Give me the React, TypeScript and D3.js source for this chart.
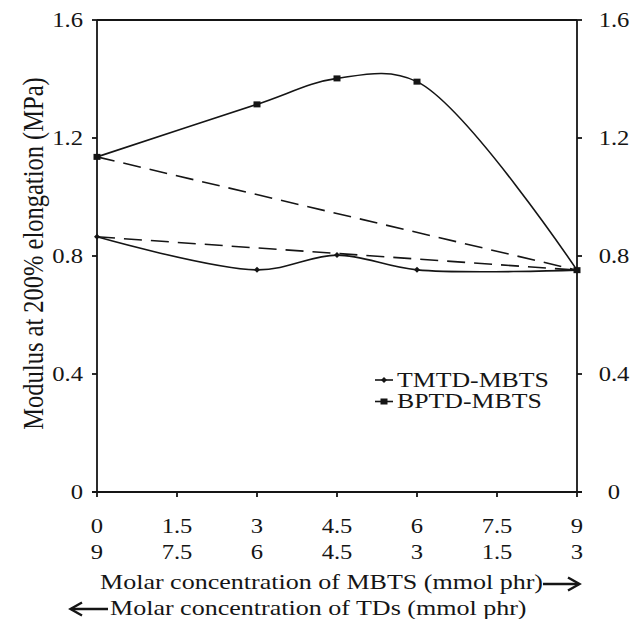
import React from 'react';
import * as d3 from 'd3';

// MBTS loading (mmol phr) at which each compound was tested
const mbtsLevels = [0, 3, 4.5, 6, 9];
// Modulus at 200% elongation (MPa)
const tmtdModulus = [0.865, 0.753, 0.803, 0.753, 0.752];
const bptdModulus = [1.136, 1.314, 1.402, 1.391, 0.752];
// Additivity lines joining the single-accelerator end points
const additiveLevels = [0, 9];
const tmtdAdditive = [0.865, 0.752];
const bptdAdditive = [1.136, 0.752];

const yTicks = [0, 0.4, 0.8, 1.2, 1.6];
const yTickLabels = ['0', '0.4', '0.8', '1.2', '1.6'];
const xTicks = [0, 1.5, 3, 4.5, 6, 7.5, 9];
const mbtsTickLabels = ['0', '1.5', '3', '4.5', '6', '7.5', '9'];
const tdTickLabels = ['9', '7.5', '6', '4.5', '3', '1.5', '3'];
const seriesNames = ['TMTD-MBTS', 'BPTD-MBTS'];

const W = 641;
const H = 619;
const FONT = "'Liberation Serif', 'DejaVu Serif', serif";
const INK = '#151515';
const SX = 1.2; // horizontal stretch applied to lettering

const x = d3.scaleLinear().domain([0, 9]).range([97, 577]);
const y = d3.scaleLinear().domain([0, 1.6]).range([492, 20]);

type P = [number, number];
const smooth = d3.line<P>().x(d => x(d[0])).y(d => y(d[1])).curve(d3.curveCatmullRom.alpha(0.5));
const straight = d3.line<P>().x(d => x(d[0])).y(d => y(d[1]));

function zip(xs: number[], ys: number[]): P[] {
  return xs.map((v, i) => [v, ys[i]] as P);
}

function SText(props: {
  x: number; y: number; size: number; anchor?: string; rotate?: boolean; children: React.ReactNode;
}) {
  const { x: tx, y: ty, size, anchor = 'start', rotate, children } = props;
  return (
    <text
      transform={`translate(${tx},${ty}) scale(${SX},1)${rotate ? ' rotate(-90)' : ''}`}
      textAnchor={anchor}
      dy="0.34em"
      style={{ fontFamily: FONT, fontSize: `${size}px`, fill: INK }}
    >
      {children}
    </text>
  );
}

function Diamond({ cx, cy }: { cx: number; cy: number }) {
  const r = 3;
  return <path d={`M${cx - r},${cy}L${cx},${cy - r}L${cx + r},${cy}L${cx},${cy + r}Z`} fill={INK} />;
}

function Square({ cx, cy }: { cx: number; cy: number }) {
  return <rect x={cx - 3.5} y={cy - 3} width={7} height={6} fill={INK} />;
}

export default function App() {
  const tmtd = zip(mbtsLevels, tmtdModulus);
  const bptd = zip(mbtsLevels, bptdModulus);
  const x0 = x(0);
  const x1 = x(9);
  const yb = y(0);
  const yt = y(1.6);

  return (
    <svg
      width={W}
      height={H}
      viewBox={`0 0 ${W} ${H}`}
      style={{ position: 'absolute', left: 0, top: 0, background: '#fff' }}
    >
      <rect width={W} height={H} fill="#fff" />

      {/* frame: left/right value axes, top border, category axis */}
      <g stroke={INK} strokeWidth={1.8} fill="none">
        <line x1={x0} y1={yt} x2={x1} y2={yt} />
        <line x1={x0} y1={yt} x2={x0} y2={yb} />
        <line x1={x1} y1={yt} x2={x1} y2={yb} />
        <line x1={x0 - 5} y1={yb} x2={x1 + 5} y2={yb} />
        {yTicks.map(t => (
          <g key={t}>
            <line x1={x0 - 5} y1={y(t)} x2={x0} y2={y(t)} />
            <line x1={x1} y1={y(t)} x2={x1 + 5} y2={y(t)} />
          </g>
        ))}
        {xTicks.map(t => (
          <line key={t} x1={x(t)} y1={yb} x2={x(t)} y2={yb + 5} />
        ))}
      </g>

      {/* axis labels */}
      {yTicks.map((t, i) => (
        <SText key={'l' + t} x={83} y={y(t)} size={20.5} anchor="end">{yTickLabels[i]}</SText>
      ))}
      {yTicks.map((t, i) => (
        <SText key={'r' + t} x={614} y={y(t)} size={20.5} anchor="middle">{yTickLabels[i]}</SText>
      ))}
      {xTicks.map((t, i) => (
        <SText key={'m' + t} x={x(t)} y={526} size={20.5} anchor="middle">{mbtsTickLabels[i]}</SText>
      ))}
      {xTicks.map((t, i) => (
        <SText key={'t' + t} x={x(t)} y={552.5} size={20.5} anchor="middle">{tdTickLabels[i]}</SText>
      ))}

      <SText x={33} y={253.5} size={24.5} anchor="middle" rotate>
        Modulus at 200% elongation (MPa)
      </SText>

      <SText x={100} y={582} size={21.7}>Molar concentration of MBTS (mmol phr)</SText>
      <SText x={110} y={608} size={21.7}>Molar concentration of TDs (mmol phr)</SText>

      {/* direction arrows */}
      <g stroke={INK} strokeWidth={2.4} fill="none">
        <line x1={543} y1={584} x2={579} y2={584} />
        <polyline points="568,577.5 579.5,584 568,590.5" />
        <line x1={71} y1={609} x2={108} y2={609} />
        <polyline points="82,602.5 70.5,609 82,615.5" />
      </g>

      {/* additivity lines */}
      <g stroke={INK} strokeWidth={1.6} fill="none" strokeDasharray="18,9">
        <path d={straight(zip(additiveLevels, bptdAdditive)) ?? ''} />
        <path d={straight(zip(additiveLevels, tmtdAdditive)) ?? ''} />
      </g>

      {/* measured series */}
      <g stroke={INK} strokeWidth={1.6} fill="none">
        <path d={smooth(tmtd) ?? ''} />
        <path d={smooth(bptd) ?? ''} />
      </g>
      {tmtd.map((d, i) => (
        <Diamond key={'tm' + i} cx={x(d[0])} cy={y(d[1])} />
      ))}
      {bptd.map((d, i) => (
        <Square key={'bp' + i} cx={x(d[0])} cy={y(d[1])} />
      ))}

      {/* legend */}
      <g stroke={INK} strokeWidth={1.6}>
        <line x1={375} y1={380} x2={393} y2={380} />
        <line x1={375} y1={401.5} x2={393} y2={401.5} />
      </g>
      <Diamond cx={384} cy={380} />
      <Square cx={384} cy={401.5} />
      <SText x={397} y={380} size={21.5}>{seriesNames[0]}</SText>
      <SText x={397} y={401} size={21.5}>{seriesNames[1]}</SText>
    </svg>
  );
}
